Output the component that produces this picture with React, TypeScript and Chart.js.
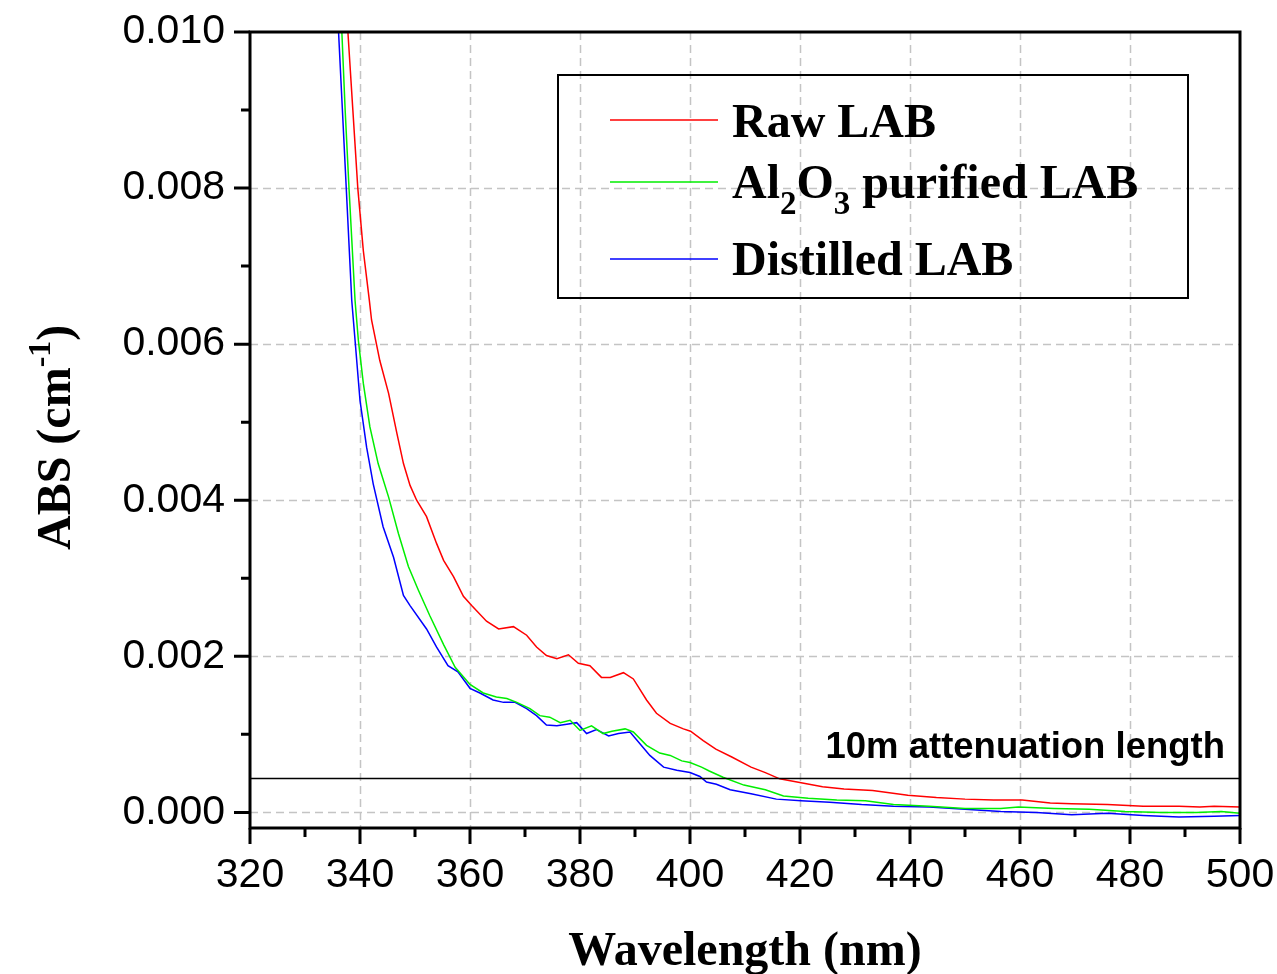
import React, { useEffect, useRef } from "react";
import { Chart, registerables } from "chart.js";

Chart.register(...registerables);

// ---- data ----
const rawX = [337.2, 337.8, 338.7, 339.6, 340.6, 341.7, 342.1, 343.6, 345.2, 346.7, 347.9, 349.1, 350.3, 352.1, 353.9, 355.2, 357.0, 358.8, 360.3, 363.0, 365.2, 367.9, 370.3, 372.1, 373.9, 375.8, 377.9, 379.7, 381.8, 383.9, 385.5, 387.9, 389.7, 392.1, 393.9, 396.4, 398.8, 400.1, 402.4, 404.7, 407.6, 411.1, 413.7, 416.3, 420.2, 424.1, 428.0, 433.2, 439.6, 444.8, 450.0, 455.2, 460.4, 465.5, 469.4, 475.9, 482.4, 488.9, 492.7, 495.3, 500];
const rawY = [0.0108, 0.0100, 0.0090, 0.0080, 0.0072, 0.00656, 0.00631, 0.00579, 0.00537, 0.00486, 0.00447, 0.00419, 0.0040, 0.00379, 0.00345, 0.00323, 0.00302, 0.00277, 0.00265, 0.00245, 0.00235, 0.00238, 0.00227, 0.00212, 0.00201, 0.00197, 0.00202, 0.00191, 0.00188, 0.00173, 0.00173, 0.00179, 0.00171, 0.00144, 0.00127, 0.00114, 0.00107, 0.00104, 0.00092, 0.00081, 0.00071, 0.00058, 0.00051, 0.00043, 0.00038, 0.00033, 0.0003, 0.00028, 0.00022, 0.00019, 0.00017, 0.00016, 0.00016, 0.00012, 0.00011, 0.0001, 0.00008, 0.00008, 0.00007, 0.00008, 0.00007];

const aluminaX = [336.1, 336.7, 337.3, 338.0, 339.1, 339.7, 340.6, 341.8, 343.3, 345.2, 347.0, 348.8, 350.6, 352.7, 355.2, 357.3, 360.0, 362.4, 364.8, 366.7, 368.5, 370.9, 372.7, 374.5, 376.4, 378.2, 380.0, 382.1, 384.2, 385.8, 388.2, 389.7, 392.1, 394.5, 396.4, 398.5, 400.0, 402.1, 403.5, 406.0, 409.8, 413.7, 417.0, 421.5, 426.7, 431.9, 437.0, 443.5, 450.0, 456.5, 459.7, 466.2, 472.6, 479.1, 485.6, 492.1, 496.6, 500];
const aluminaY = [0.0108, 0.0100, 0.0090, 0.0080, 0.00656, 0.00605, 0.0055, 0.00494, 0.00447, 0.00404, 0.00357, 0.00315, 0.00285, 0.00252, 0.00215, 0.00186, 0.00164, 0.00153, 0.00148, 0.00146, 0.00141, 0.00133, 0.00124, 0.00122, 0.00115, 0.00118, 0.00105, 0.00111, 0.00101, 0.00104, 0.00107, 0.00103, 0.00086, 0.00076, 0.00073, 0.00066, 0.00064, 0.00058, 0.00053, 0.00045, 0.00035, 0.00029, 0.00021, 0.00018, 0.00016, 0.00015, 0.0001, 0.00008, 0.00005, 0.00005, 0.00007, 0.00005, 0.00004, 0.00001, 0.0, 0.0, 0.00001, -0.00001];

const distilledX = [335.6, 336.1, 336.8, 337.5, 338.5, 339.1, 340.0, 341.2, 342.4, 344.2, 346.1, 347.9, 349.1, 352.1, 353.9, 356.0, 357.8, 360.0, 361.8, 364.2, 366.1, 368.2, 370.3, 372.1, 373.9, 375.8, 377.6, 379.4, 381.2, 383.0, 385.2, 387.0, 389.1, 390.9, 392.7, 395.2, 397.6, 400.0, 401.8, 403.0, 404.8, 407.3, 411.1, 415.7, 420.2, 425.4, 431.2, 437.0, 443.5, 450.0, 456.5, 463.0, 469.4, 475.9, 482.4, 488.9, 495.3, 500];
const distilledY = [0.0108, 0.0100, 0.0090, 0.0080, 0.00656, 0.00605, 0.00528, 0.00468, 0.00421, 0.00366, 0.00327, 0.00278, 0.00265, 0.00235, 0.00212, 0.00188, 0.0018, 0.00159, 0.00153, 0.00144, 0.00141, 0.00141, 0.00133, 0.00124, 0.00112, 0.00111, 0.00113, 0.00115, 0.00101, 0.00106, 0.00098, 0.00101, 0.00103, 0.00088, 0.00073, 0.00058, 0.00054, 0.00051, 0.00046, 0.00039, 0.00036, 0.00029, 0.00024, 0.00017, 0.00015, 0.00013, 0.0001, 0.00008, 0.00007, 0.00004, 0.00001, 0.0, -0.00003, -0.00001, -0.00004, -0.00006, -0.00005, -0.00004];

const attenuationX = [320, 500];
const attenuationY = [0.000434, 0.000434];
const attenuationLabel = "10m attenuation length";

const xMajorTicks = [320, 340, 360, 380, 400, 420, 440, 460, 480, 500];
const xMinorTicks = [330, 350, 370, 390, 410, 430, 450, 470, 490];
const yMajorTicks = [0, 0.002, 0.004, 0.006, 0.008, 0.01];
const yMinorTicks = [0.001, 0.003, 0.005, 0.007, 0.009];

const seriesColors = ["#ff0000", "#00ee00", "#0000ff"];

const SANS = "'Liberation Sans', Arial, sans-serif";
const SERIF = "'Liberation Serif', 'Times New Roman', serif";

type Part = { text: string; size: number; dy?: number };

function drawRich(ctx: CanvasRenderingContext2D, x: number, y: number, parts: Part[]) {
  let cx = x;
  for (const p of parts) {
    ctx.font = `bold ${p.size}px ${SERIF}`;
    ctx.fillText(p.text, cx, y + (p.dy || 0));
    cx += ctx.measureText(p.text).width;
  }
}

const legendEntries: { parts: Part[]; color: string; lineY: number; baseY: number }[] = [
  { parts: [{ text: "Raw LAB", size: 48 }], color: seriesColors[0], lineY: 120, baseY: 137 },
  {
    parts: [
      { text: "Al", size: 48 },
      { text: "2", size: 33, dy: 16 },
      { text: "O", size: 48 },
      { text: "3", size: 33, dy: 16 },
      { text: " purified LAB", size: 48 },
    ],
    color: seriesColors[1],
    lineY: 182,
    baseY: 198,
  },
  { parts: [{ text: "Distilled LAB", size: 48 }], color: seriesColors[2], lineY: 259, baseY: 275 },
];

const decorPlugin = {
  id: "decor",
  beforeDatasetsDraw(chart: any) {
    const { ctx, chartArea: a, scales } = chart;
    const xs = scales.x;
    const ys = scales.y;
    ctx.save();
    ctx.strokeStyle = "#c4c4c4";
    ctx.lineWidth = 1.5;
    ctx.setLineDash([8, 5]);
    ctx.beginPath();
    for (const v of xMajorTicks) {
      if (v <= xs.min || v >= xs.max) continue;
      const px = Math.round(xs.getPixelForValue(v)) + 0.5;
      ctx.moveTo(px, a.top);
      ctx.lineTo(px, a.bottom);
    }
    for (const v of yMajorTicks) {
      if (v >= ys.max) continue;
      const py = Math.round(ys.getPixelForValue(v)) + 0.5;
      ctx.moveTo(a.left, py);
      ctx.lineTo(a.right, py);
    }
    ctx.stroke();
    ctx.restore();
  },
  afterDraw(chart: any) {
    const { ctx, chartArea: a, scales } = chart;
    const xs = scales.x;
    const ys = scales.y;
    ctx.save();
    // frame
    ctx.strokeStyle = "#000";
    ctx.lineWidth = 3;
    ctx.setLineDash([]);
    ctx.strokeRect(a.left, a.top, a.right - a.left, a.bottom - a.top);
    // ticks
    ctx.beginPath();
    for (const v of xMajorTicks) {
      const px = xs.getPixelForValue(v);
      ctx.moveTo(px, a.bottom);
      ctx.lineTo(px, a.bottom + 16);
    }
    for (const v of xMinorTicks) {
      const px = xs.getPixelForValue(v);
      ctx.moveTo(px, a.bottom);
      ctx.lineTo(px, a.bottom + 9);
    }
    for (const v of yMajorTicks) {
      const py = ys.getPixelForValue(v);
      ctx.moveTo(a.left, py);
      ctx.lineTo(a.left - 16, py);
    }
    for (const v of yMinorTicks) {
      const py = ys.getPixelForValue(v);
      ctx.moveTo(a.left, py);
      ctx.lineTo(a.left - 9, py);
    }
    ctx.stroke();

    ctx.fillStyle = "#000";
    ctx.textBaseline = "alphabetic";
    // x title
    ctx.font = `bold 48px ${SERIF}`;
    ctx.textAlign = "center";
    ctx.fillText("Wavelength (nm)", (a.left + a.right) / 2, 965);
    // y title (rotated)
    ctx.textAlign = "left";
    ctx.save();
    ctx.translate(70, 550);
    ctx.rotate(-Math.PI / 2);
    drawRich(ctx, 0, 0, [
      { text: "ABS (cm", size: 48 },
      { text: "-1", size: 32, dy: -20 },
      { text: ")", size: 48 },
    ]);
    ctx.restore();

    // attenuation label
    ctx.font = `bold 36.5px ${SANS}`;
    ctx.textAlign = "right";
    ctx.fillText(attenuationLabel, 1225, 758);

    // legend
    ctx.lineWidth = 2;
    ctx.strokeRect(558, 75, 630, 223);
    ctx.textAlign = "left";
    for (const e of legendEntries) {
      ctx.strokeStyle = e.color;
      ctx.lineWidth = 1.5;
      ctx.beginPath();
      ctx.moveTo(610, e.lineY);
      ctx.lineTo(718, e.lineY);
      ctx.stroke();
      drawRich(ctx, 732, e.baseY, e.parts);
    }
    ctx.restore();
  },
};

function toPoints(xs: number[], ys: number[]) {
  return xs.map((x, i) => ({ x, y: ys[i] }));
}

function zeroPadding(s: any) {
  s.paddingTop = 0;
  s.paddingBottom = 0;
  s.paddingLeft = 0;
  s.paddingRight = 0;
}

export default function App() {
  const ref = useRef<HTMLCanvasElement | null>(null);
  useEffect(() => {
    if (!ref.current) return;
    const mk = (label: string, xs: number[], ys: number[], color: string, w = 1.5) => ({
      label,
      data: toPoints(xs, ys),
      borderColor: color,
      backgroundColor: color,
      borderWidth: w,
      pointRadius: 0,
      tension: 0,
      fill: false,
    });
    const chart = new Chart(ref.current, {
      type: "line",
      data: {
        datasets: [
          mk("10m attenuation length", attenuationX, attenuationY, "#000000", 1.5),
          mk("Raw LAB", rawX, rawY, seriesColors[0]),
          mk("Al2O3 purified LAB", aluminaX, aluminaY, seriesColors[1]),
          mk("Distilled LAB", distilledX, distilledY, seriesColors[2]),
        ],
      },
      options: {
        responsive: false,
        animation: false,
        layout: { padding: { left: 0, top: 32, right: 37, bottom: 0 } },
        plugins: { legend: { display: false }, tooltip: { enabled: false }, title: { display: false } },
        scales: {
          x: {
            type: "linear",
            min: 320,
            max: 500,
            afterBuildTicks: (s: any) => {
              s.ticks = xMajorTicks.map((v) => ({ value: v }));
            },
            afterFit: (s: any) => {
              s.height = 146;
              zeroPadding(s);
            },
            grid: { display: false, drawTicks: false },
            border: { display: false },
            ticks: {
              autoSkip: false,
              maxRotation: 0,
              padding: 23,
              color: "#000",
              font: { family: SANS, size: 41 },
              callback: (v: any) => String(v),
            },
          },
          y: {
            type: "linear",
            min: -0.0002,
            max: 0.01,
            afterBuildTicks: (s: any) => {
              s.ticks = yMajorTicks.map((v) => ({ value: v }));
            },
            afterFit: (s: any) => {
              s.width = 250;
              zeroPadding(s);
            },
            grid: { display: false, drawTicks: false },
            border: { display: false },
            ticks: {
              autoSkip: false,
              padding: 25,
              color: "#000",
              font: { family: SANS, size: 41 },
              callback: (v: any) => Number(v).toFixed(3),
            },
          },
        },
      },
      plugins: [decorPlugin],
    } as any);
    return () => chart.destroy();
  }, []);
  return (
    <div style={{ position: "absolute", left: 0, top: 0, width: 1277, height: 974, background: "#fff" }}>
      <canvas ref={ref} width={1277} height={974} style={{ width: 1277, height: 974, display: "block" }} />
    </div>
  );
}
